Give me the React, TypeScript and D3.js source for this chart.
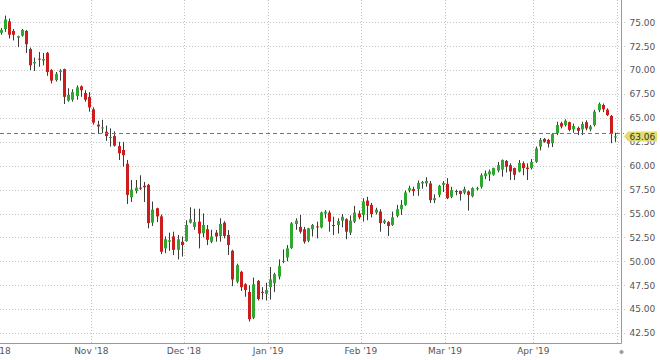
import React from 'react';
import * as d3 from 'd3';

// trading calendar (weekdays, minus the two closed days)
const CAL_START = '2018-10-01';
const CAL_END = '2019-04-26';
const HOLIDAYS = ['2018-12-25', '2019-01-01'];
const FIRST_CANDLE = '2018-10-02';

const opens = [
  73.9, 74.3, 75.1, 74.1, 73.4, 73.6, 74.1, 72.2, 70.7, 71.2,
  71.0, 71.8, 70.0, 68.95, 69.8, 70.1, 66.8, 66.9, 67.3, 68.3,
  67.6, 67.2, 65.9, 64.3, 63.9, 63.55, 62.9, 63.1, 62.05, 61.65,
  60.2, 56.7, 57.35, 57.7, 57.9, 58.0, 54.05, 55.55, 54.7, 51.36,
  52.05, 52.6, 51.2, 52.05, 52.1, 54.05, 53.6, 54.15, 52.93, 53.35,
  52.05, 53.0, 52.65, 54.04, 52.75, 51.1, 47.87, 48.9, 47.6, 46.8,
  44.1, 47.95, 46.8, 46.6, 47.3, 47.7, 48.4, 49.95, 50.4, 51.4,
  53.9, 53.6, 53.35, 52.15, 53.35, 53.65, 53.55, 55.0, 55.1, 53.8,
  53.8, 54.25, 54.4, 53.0, 54.15, 55.0, 54.85, 56.35, 55.9, 55.1,
  55.2, 54.05, 54.1, 53.8, 54.75, 55.45, 55.9, 57.4, 57.55, 57.55,
  58.15, 58.15, 58.15, 56.4, 56.95, 58.0, 58.1, 56.75, 57.35, 57.35,
  57.17, 57.3, 56.8, 57.55, 57.8, 58.9, 59.1, 59.05, 59.5, 59.6,
  60.5, 60.05, 59.75, 59.4, 60.25, 59.8, 59.75, 60.4, 62.0, 62.8,
  62.7, 62.35, 63.4, 64.45, 64.25, 64.55, 63.8, 63.95, 63.8, 64.55,
  63.8, 64.25, 65.8, 66.35, 65.85, 65.2, 62.95,
];
const highs = [
  74.4, 75.7, 75.4, 74.3, 73.6, 74.3, 74.2, 72.35, 71.3, 71.9,
  71.8, 71.9, 70.1, 69.8, 70.1, 70.15, 68.1, 68.0, 68.4, 68.4,
  67.9, 67.7, 66.1, 64.7, 64.8, 64.2, 63.9, 63.6, 62.5, 62.5,
  60.6, 58.5, 58.5, 59.0, 58.3, 58.1, 56.25, 55.6, 54.9, 52.6,
  53.0, 53.1, 52.75, 52.6, 54.3, 55.65, 55.5, 55.5, 55.0, 53.8,
  53.3, 53.27, 54.5, 54.2, 53.27, 51.2, 49.75, 49.0, 47.7, 47.5,
  48.3, 48.05, 47.3, 47.76, 49.4, 48.8, 50.2, 51.25, 51.7, 54.1,
  54.5, 54.85, 53.6, 53.5, 53.9, 54.15, 55.2, 55.35, 55.3, 54.67,
  54.5, 54.95, 54.5, 54.8, 55.8, 55.3, 56.6, 56.75, 56.1, 55.6,
  55.45, 54.4, 54.2, 55.2, 55.9, 56.4, 57.4, 57.9, 57.8, 58.45,
  58.4, 58.8, 58.4, 57.0, 58.0, 58.4, 58.7, 57.8, 57.5, 57.4,
  57.8, 57.4, 57.75, 57.8, 59.2, 59.5, 59.6, 59.8, 60.4, 60.65,
  60.6, 60.25, 59.8, 60.6, 60.45, 60.25, 60.7, 62.0, 62.9, 62.9,
  62.8, 63.4, 64.6, 64.6, 64.85, 64.6, 64.4, 64.1, 64.6, 64.75,
  64.25, 65.85, 66.6, 66.5, 66.0, 65.3, 63.45,
];
const lows = [
  73.7, 74.0, 73.3, 73.1, 72.4, 73.5, 71.8, 70.0, 69.9, 70.35,
  70.5, 69.4, 68.6, 68.8, 68.9, 66.45, 66.7, 66.7, 66.9, 67.2,
  66.7, 65.65, 64.3, 63.4, 63.4, 62.6, 62.0, 62.0, 60.6, 59.9,
  56.0, 56.2, 57.1, 57.45, 56.2, 53.45, 53.7, 54.1, 50.75, 50.85,
  51.1, 50.65, 50.2, 50.5, 52.05, 53.95, 53.3, 51.35, 52.5, 51.7,
  51.9, 52.05, 52.05, 52.4, 50.66, 47.4, 47.7, 46.9, 46.3, 43.7,
  43.95, 45.9, 46.0, 45.9, 46.0, 46.8, 48.1, 49.8, 50.0, 51.3,
  53.3, 52.9, 51.85, 52.0, 52.6, 52.4, 53.45, 54.5, 53.1, 52.75,
  52.9, 53.55, 52.3, 52.75, 54.0, 54.4, 54.15, 54.3, 54.6, 54.9,
  53.1, 53.9, 52.65, 53.7, 54.6, 54.85, 55.8, 57.2, 56.85, 56.85,
  57.6, 57.8, 56.1, 56.1, 56.7, 57.25, 56.5, 56.6, 56.9, 56.35,
  57.0, 55.3, 56.7, 57.4, 57.6, 58.6, 58.4, 58.95, 59.3, 58.85,
  59.3, 58.5, 58.5, 59.3, 59.0, 58.5, 59.6, 60.3, 61.6, 62.4,
  61.9, 61.95, 63.2, 63.9, 64.1, 63.6, 63.45, 63.2, 63.2, 63.7,
  63.6, 64.1, 65.6, 65.6, 65.2, 62.35, 62.5,
];
const closes = [
  74.2, 75.3, 73.7, 73.7, 73.55, 74.2, 72.7, 70.5, 70.85, 71.1,
  71.15, 69.8, 68.9, 69.6, 69.95, 67.2, 67.4, 67.7, 68.2, 67.9,
  66.9, 66.1, 64.5, 64.1, 64.0, 63.1, 63.0, 62.1, 61.3, 61.1,
  56.94, 57.5, 57.7, 57.6, 57.75, 54.0, 55.4, 54.7, 51.0, 52.3,
  52.2, 51.2, 52.3, 51.7, 53.8, 54.4, 54.1, 52.9, 53.8, 52.25,
  52.6, 52.6, 53.9, 52.65, 51.7, 48.1, 49.6, 47.3, 47.0, 43.95,
  47.6, 46.05, 46.7, 47.0, 48.1, 48.65, 49.5, 50.05, 51.35, 53.97,
  54.25, 53.1, 52.05, 53.45, 53.8, 53.55, 55.1, 55.2, 54.15, 53.7,
  54.2, 54.65, 53.1, 54.25, 55.1, 54.6, 56.25, 55.8, 54.95, 55.4,
  54.0, 54.25, 53.7, 54.6, 55.45, 55.9, 57.2, 57.65, 57.35, 58.2,
  58.3, 58.4, 56.4, 56.6, 57.9, 58.2, 56.6, 57.45, 57.25, 57.05,
  57.55, 56.95, 57.65, 57.65, 59.0, 59.2, 59.4, 59.75, 60.05, 60.6,
  59.9, 59.4, 59.05, 60.3, 59.75, 59.65, 60.4, 61.8, 62.7, 62.5,
  62.3, 63.3, 64.25, 64.1, 64.7, 63.75, 64.15, 63.65, 64.35, 63.9,
  64.1, 65.65, 66.45, 65.9, 65.3, 63.4, 63.06,
];

const yTicks = [42.5, 45, 47.5, 50, 52.5, 55, 57.5, 60, 62.5, 65, 67.5, 70, 72.5, 75];

const FONT = '"DejaVu Sans", Verdana, sans-serif';
const UP = '#2ea82e';
const DOWN = '#cc1c1c';
const WICK = '#3a3a3a';

const parse = d3.timeParse('%Y-%m-%d');
const fmt = d3.timeFormat('%Y-%m-%d');
const monthFmt = d3.timeFormat("%b '%y");

const calendar = d3.timeDay
  .range(parse(CAL_START)!, d3.timeDay.offset(parse(CAL_END)!, 1))
  .filter(d => d.getDay() > 0 && d.getDay() < 6)
  .map(fmt)
  .filter(s => !HOLIDAYS.includes(s));

const candleDates = calendar.slice(calendar.indexOf(FIRST_CANDLE));

export default function App() {
  const x = d3.scaleBand<string>().domain(calendar).range([-5.5, 617.6]).padding(0);
  const y = d3.scaleLinear().domain([42.5, 75]).range([333, 22.3]);
  const bw = x.bandwidth();
  const axisY = 343.5;
  const axisX = 621.5;

  const monthTicks = calendar.filter((d, i) => i === 0 || d.slice(0, 7) !== calendar[i - 1].slice(0, 7));

  const last = closes[closes.length - 1];
  const prevClose = closes[closes.length - 2];
  const ly = y(last);
  const py = Math.round(y(prevClose)) + 0.5;

  return (
    <svg width={660} height={360} style={{ position: 'absolute', left: 0, top: 0, background: '#fff' }}
      fontFamily={FONT}>
      {/* horizontal grid */}
      {yTicks.map(t => {
        const yy = Math.round(y(t)) + 0.5;
        return <line key={'h' + t} x1={0} x2={627} y1={yy} y2={yy} stroke="#c4c4c4" strokeDasharray="1,2" />;
      })}
      {/* vertical grid */}
      {monthTicks.map(d => {
        const xx = Math.round(x(d)!) + 0.5;
        return <line key={'v' + d} x1={xx} x2={xx} y1={0} y2={axisY} stroke="#c4c4c4" strokeDasharray="1,2" />;
      })}
      <line x1={617.5} x2={617.5} y1={0} y2={axisY} stroke="#c4c4c4" strokeDasharray="1,2" />

      {/* candles */}
      {candleDates.map((d, i) => {
        const o = opens[i], h = highs[i], l = lows[i], c = closes[i];
        const cx = Math.round(x(d)! + bw / 2);
        const top = Math.min(y(o), y(c));
        const hgt = Math.max(1, Math.abs(y(o) - y(c)));
        return (
          <g key={d}>
            <line x1={cx + 0.5} x2={cx + 0.5} y1={y(h)} y2={y(l)} stroke={WICK} strokeWidth={1} />
            <rect x={cx - 1} y={top} width={3} height={hgt} fill={c >= o ? UP : DOWN} />
          </g>
        );
      })}

      {/* previous close line */}
      <line x1={0} x2={624} y1={py} y2={py} stroke="#777" strokeDasharray="4,3" />

      {/* axes */}
      <line x1={0} x2={axisX} y1={axisY} y2={axisY} stroke="#999" />
      <line x1={axisX} x2={axisX} y1={0} y2={axisY} stroke="#999" />
      <path d={`M${axisX},349.5 L${axisX + 2.5},352 L${axisX},354.5 L${axisX - 2.5},352 Z`} fill="#999" />

      {yTicks.map(t => (
        <text key={'yl' + t} x={629.5} y={y(t) + 3.3} fontSize={9} fill="#555">{t.toFixed(2)}</text>
      ))}
      {monthTicks.map(d => (
        <text key={'xl' + d} x={x(d)!} y={354} fontSize={9} fill="#555" textAnchor="middle">
          {monthFmt(parse(d)!)}
        </text>
      ))}

      {/* last price label */}
      <path d={`M624,${ly} L628,${ly - 5} L657,${ly - 5} L657,${ly + 5} L628,${ly + 5} Z`} fill="#e2dc70" />
      <text x={629.5} y={ly + 3.3} fontSize={9} fill="#333">{last.toFixed(2)}</text>
    </svg>
  );
}
